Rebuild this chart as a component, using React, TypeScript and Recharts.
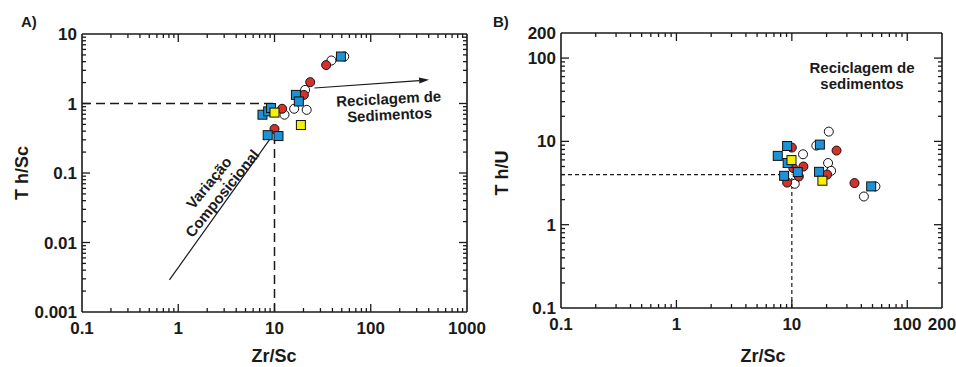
import React from "react";
import { ScatterChart, Scatter, XAxis, YAxis, ReferenceLine } from "recharts";

// Panel A: Th/Sc vs Zr/Sc
const blueA = [
  { x: 7.5, y: 0.69 }, { x: 8.6, y: 0.77 }, { x: 9.2, y: 0.86 },
  { x: 8.5, y: 0.35 }, { x: 11, y: 0.34 }, { x: 16.7, y: 1.33 },
  { x: 17.9, y: 1.07 }, { x: 49, y: 4.74 },
];
const redA = [
  { x: 10, y: 0.43 }, { x: 12, y: 0.84 }, { x: 20.2, y: 1.33 },
  { x: 23.5, y: 2.03 }, { x: 34.4, y: 3.57 },
];
const whiteA = [
  { x: 12.7, y: 0.69 }, { x: 16, y: 0.84 }, { x: 21.6, y: 0.81 },
  { x: 20.8, y: 1.57 }, { x: 39, y: 4.16 }, { x: 53, y: 4.74 },
];
const yellowA = [{ x: 10, y: 0.74 }, { x: 18.8, y: 0.49 }];

// Panel B: Th/U vs Zr/Sc
const blueB = [
  { x: 7.55, y: 6.7 }, { x: 9.1, y: 8.8 }, { x: 9.2, y: 5.5 },
  { x: 8.57, y: 3.86 }, { x: 11.25, y: 4.28 }, { x: 17.5, y: 9.15 },
  { x: 17.2, y: 4.31 }, { x: 48.7, y: 2.88 },
];
const redB = [
  { x: 10, y: 8.43 }, { x: 9.1, y: 3.2 }, { x: 10.3, y: 4.77 },
  { x: 12.6, y: 4.99 }, { x: 11.5, y: 3.79 }, { x: 24.4, y: 7.76 },
  { x: 20.2, y: 4.0 }, { x: 34.9, y: 3.16 },
];
const whiteB = [
  { x: 20.9, y: 13.1 }, { x: 12.5, y: 7.0 }, { x: 16.3, y: 8.9 },
  { x: 20.6, y: 5.5 }, { x: 21.9, y: 4.43 }, { x: 10.6, y: 3.1 },
  { x: 42.1, y: 2.18 }, { x: 53, y: 2.88 },
];
const yellowB = [{ x: 9.93, y: 5.96 }, { x: 18.4, y: 3.37 }];

// tick labels
const xLabelsA = [0.1, 1, 10, 100, 1000];
const yLabelsA = [0.001, 0.01, 0.1, 1, 10];
const xLabelsB = [0.1, 1, 10, 100, 200];
const yLabelsB = [0.1, 1, 10, 100, 200];

// decade + minor (2..9) tick marks strictly inside a range
const logTicks = (lo: number, hi: number) => {
  const out: number[] = [];
  for (let e = Math.floor(Math.log10(lo)); e <= Math.ceil(Math.log10(hi)); e++) {
    for (let m = 1; m <= 9; m++) {
      const v = +(m * Math.pow(10, e)).toPrecision(6);
      if (v > lo * 1.0001 && v < hi * 0.9999) out.push(v);
    }
  }
  return out;
};

const FONT = "'Liberation Sans', Arial, sans-serif";
const INK = "#1a1a1a";

const isDecade = (v: number) => {
  const lg = Math.log10(v);
  return Math.abs(lg - Math.round(lg)) < 1e-6;
};

// inward tick marks at both ends of an edge-to-edge segment
const Mark = (v: number) => (p: any) => {
  const len = isDecade(v) ? 8 : 4;
  const x1 = Number(p.x1), y1 = Number(p.y1), x2 = Number(p.x2), y2 = Number(p.y2);
  const d = Math.hypot(x2 - x1, y2 - y1) || 1;
  const ux = (x2 - x1) / d;
  const uy = (y2 - y1) / d;
  return (
    <g>
      <line x1={x1} y1={y1} x2={x1 + ux * len} y2={y1 + uy * len} stroke={INK} strokeWidth={1.3} />
      <line x1={x2} y1={y2} x2={x2 - ux * len} y2={y2 - uy * len} stroke={INK} strokeWidth={1.3} />
    </g>
  );
};

const BottomLabel = (p: any) => (
  <text x={p.x} y={p.y + 22} textAnchor="middle" fontSize={17} fontWeight="bold" fontFamily={FONT} fill={INK}>
    {String(p.payload.value)}
  </text>
);
const LeftLabel = (p: any) => (
  <text x={p.x - 5} y={p.y + 6} textAnchor="end" fontSize={17} fontWeight="bold" fontFamily={FONT} fill={INK}>
    {String(p.payload.value)}
  </text>
);

const Square = (fill: string) => (p: any) => (
  <rect x={p.cx - 4.5} y={p.cy - 4.5} width={9} height={9} fill={fill} stroke="#111" strokeWidth={1} />
);
const Dot = (fill: string) => (p: any) => (
  <circle cx={p.cx} cy={p.cy} r={4.5} fill={fill} stroke="#111" strokeWidth={1} />
);

const axisCommon = {
  type: "number" as const,
  scale: "log" as const,
  allowDataOverflow: true,
  interval: 0 as const,
  tickSize: 0,
  tickMargin: 0,
  tickLine: false,
  axisLine: { stroke: INK, strokeWidth: 1.6 },
};

const Arrow = (p: any) => {
  const { x1, y1, x2, y2 } = p;
  const a = Math.atan2(y2 - y1, x2 - x1);
  const L = 10;
  const W = 3;
  const bx = x2 - L * Math.cos(a);
  const by = y2 - L * Math.sin(a);
  const px = -Math.sin(a) * W;
  const py = Math.cos(a) * W;
  return (
    <g>
      <line x1={x1} y1={y1} x2={bx} y2={by} stroke={INK} strokeWidth={1.2} />
      <polygon points={`${x2},${y2} ${bx + px},${by + py} ${bx - px},${by - py}`} fill={INK} />
    </g>
  );
};

// frame (top + right edges) and inward log ticks on all four edges
const frame = (xd: number[], yd: number[]) => [
  <ReferenceLine key="ft" segment={[{ x: xd[0], y: yd[1] }, { x: xd[1], y: yd[1] }]} stroke={INK} strokeWidth={1.6} />,
  <ReferenceLine key="fr" segment={[{ x: xd[1], y: yd[0] }, { x: xd[1], y: yd[1] }]} stroke={INK} strokeWidth={1.6} />,
  ...logTicks(xd[0], xd[1]).map((v) => (
    <ReferenceLine key={"x" + v} segment={[{ x: v, y: yd[0] }, { x: v, y: yd[1] }]} shape={Mark(v)} />
  )),
  ...logTicks(yd[0], yd[1]).map((v) => (
    <ReferenceLine key={"y" + v} segment={[{ x: xd[0], y: v }, { x: xd[1], y: v }]} shape={Mark(v)} />
  )),
];

function PanelA() {
  const xd = [0.1, 1000];
  const yd = [0.001, 10];
  return (
    <ScatterChart width={500} height={367} margin={{ top: 34, right: 33, bottom: 0, left: 0 }}>
      <XAxis dataKey="x" {...axisCommon} domain={xd} ticks={xLabelsA} height={55} tick={BottomLabel} />
      <YAxis dataKey="y" {...axisCommon} domain={yd} ticks={yLabelsA} width={82} tick={LeftLabel} />
      {frame(xd, yd)}
      <ReferenceLine segment={[{ x: 0.1, y: 1 }, { x: 10, y: 1 }]} stroke={INK} strokeWidth={1.5} strokeDasharray="9 5" />
      <ReferenceLine segment={[{ x: 10, y: 0.001 }, { x: 10, y: 0.3 }]} stroke={INK} strokeWidth={1.5} strokeDasharray="9 5" />
      <ReferenceLine segment={[{ x: 0.81, y: 0.0029 }, { x: 9.3, y: 0.33 }]} stroke={INK} strokeWidth={1.2} />
      <ReferenceLine segment={[{ x: 26, y: 1.67 }, { x: 404, y: 2.19 }]} shape={Arrow} />
      <Scatter data={whiteA} shape={Dot("#fff")} isAnimationActive={false} />
      <Scatter data={redA} shape={Dot("#d6302a")} isAnimationActive={false} />
      <Scatter data={blueA} shape={Square("#1d92d6")} isAnimationActive={false} />
      <Scatter data={yellowA} shape={Square("#f7f000")} isAnimationActive={false} />
    </ScatterChart>
  );
}

function PanelB() {
  const xd = [0.1, 200];
  const yd = [0.1, 200];
  return (
    <ScatterChart width={476} height={367} margin={{ top: 33, right: 14, bottom: 0, left: 0 }}>
      <XAxis dataKey="x" {...axisCommon} domain={xd} ticks={xLabelsB} height={59} tick={BottomLabel} />
      <YAxis dataKey="y" {...axisCommon} domain={yd} ticks={yLabelsB} width={81} tick={LeftLabel} />
      {frame(xd, yd)}
      <ReferenceLine segment={[{ x: 0.1, y: 4 }, { x: 10, y: 4 }]} stroke={INK} strokeWidth={1.2} strokeDasharray="4 3" />
      <ReferenceLine segment={[{ x: 10, y: 0.1 }, { x: 10, y: 4 }]} stroke={INK} strokeWidth={1.2} strokeDasharray="4 3" />
      <Scatter data={whiteB} shape={Dot("#fff")} isAnimationActive={false} />
      <Scatter data={redB} shape={Dot("#d6302a")} isAnimationActive={false} />
      <Scatter data={blueB} shape={Square("#1d92d6")} isAnimationActive={false} />
      <Scatter data={yellowB} shape={Square("#f7f000")} isAnimationActive={false} />
    </ScatterChart>
  );
}

export default function App() {
  const t = { fontFamily: FONT, fontWeight: "bold" as const, fill: INK };
  return (
    <div style={{ position: "absolute", left: 0, top: 0, width: 956, height: 367, background: "#fff", overflow: "hidden" }}>
      <svg width={956} height={367} style={{ position: "absolute", left: 0, top: 0 }}>
        <text x={21} y={27} fontSize={15} {...t}>A)</text>
        <text x={493} y={27} fontSize={15} {...t}>B)</text>
        <text x={274} y={362} fontSize={18} textAnchor="middle" {...t}>Zr/Sc</text>
        <text x={763} y={362} fontSize={18} textAnchor="middle" {...t}>Zr/Sc</text>
        <text transform="translate(28,173) rotate(-90)" fontSize={18} textAnchor="middle" {...t}>T h/Sc</text>
        <text transform="translate(508,173) rotate(-90)" fontSize={18} textAnchor="middle" {...t}>T h/U</text>
        <g transform="translate(389,104) rotate(-3)">
          <text x={0} y={0} fontSize={15} textAnchor="middle" {...t}>Reciclagem de</text>
          <text x={0} y={16} fontSize={15} textAnchor="middle" {...t}>Sedimentos</text>
        </g>
        <g transform="translate(213,186) rotate(-51)">
          <text x={0} y={0} fontSize={15} textAnchor="middle" {...t}>Variação</text>
          <text x={0} y={17} fontSize={15} textAnchor="middle" {...t}>Composicional</text>
        </g>
        <text x={862} y={73} fontSize={15} textAnchor="middle" {...t}>Reciclagem de</text>
        <text x={862} y={89} fontSize={15} textAnchor="middle" {...t}>sedimentos</text>
      </svg>
      <div style={{ position: "absolute", left: 0, top: 0 }}>
        <PanelA />
      </div>
      <div style={{ position: "absolute", left: 480, top: 0 }}>
        <PanelB />
      </div>
    </div>
  );
}
